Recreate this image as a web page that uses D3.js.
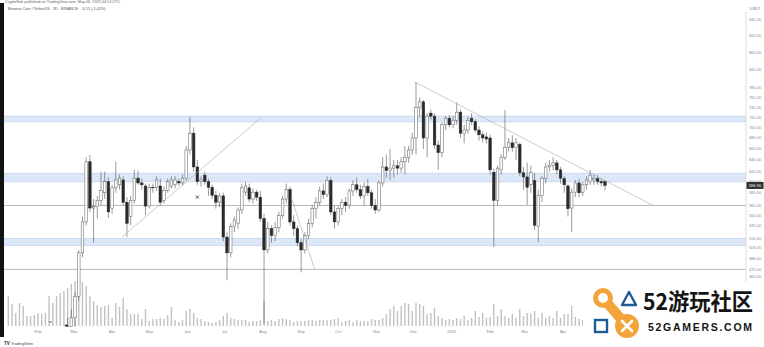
<!DOCTYPE html>
<html><head><meta charset="utf-8">
<script src="https://cdn.jsdelivr.net/npm/d3@7"></script>
<style>html,body{margin:0;padding:0;background:#fff;overflow:hidden}svg{display:block;font-family:"Liberation Sans",Arial,sans-serif}</style>
</head><body><svg id="c" width="764" height="347"></svg>
<script>
// ---------- DATA ----------
const startDate = "2024-01-08";   // first 3D candle
const stepDays = 3;
const opens  = [305,312,316,305,302,307,295,302,306,304,303,315,325,350,352,365,378,405,415,440,496,540,637,561,563,573,585,603,560,593,598,606,570,548,573,609,601,596,564,594,594,596,573,589,596,598,603,601,609,658,689,628,603,614,603,594,581,570,580,518,496,533,538,558,586,593,575,586,578,545,500,530,520,532,550,575,590,540,530,510,500,520,538,560,570,588,582,605,555,540,560,570,565,588,598,590,580,595,585,565,558,601,628,622,626,630,626,637,645,658,680,740,751,680,728,722,667,653,705,718,705,714,730,689,695,718,711,695,686,682,680,619,573,623,645,663,671,662,668,618,611,598,605,533,581,609,628,631,635,623,608,596,561,586,601,586,598,603,606,608,603,603];
const highs  = [318,322,320,312,310,310,305,310,312,310,318,330,355,360,370,385,415,425,445,500,548,645,649,575,580,620,620,610,598,637,615,612,578,580,623,622,608,600,600,600,612,608,595,608,612,612,608,615,665,720,700,640,612,620,608,598,588,585,585,525,538,548,562,600,603,600,592,590,588,552,540,535,540,555,580,600,595,550,535,515,525,545,565,578,595,600,612,610,565,565,575,578,592,605,610,598,602,608,590,575,605,645,650,660,640,640,645,665,665,690,793,760,755,728,735,728,675,710,722,724,722,750,735,705,722,728,716,702,692,690,686,625,630,650,734,680,685,680,672,628,636,630,618,590,612,635,640,645,640,628,612,600,592,606,608,603,612,623,615,614,608,606];
const lows   = [298,305,300,296,295,285,290,298,298,296,300,312,320,342,345,358,375,395,385,435,490,535,555,510,545,565,575,546,552,585,590,565,518,535,568,598,590,550,560,585,588,565,568,585,592,592,596,597,605,650,620,598,595,598,580,575,560,562,512,460,490,525,530,552,580,570,568,572,540,408,495,510,512,525,545,568,535,520,505,470,495,515,532,545,565,575,578,550,530,535,550,555,560,580,585,575,565,580,560,552,555,595,610,606,610,615,618,615,635,650,650,720,660,645,715,660,623,645,695,700,698,705,680,670,688,705,690,675,672,670,615,504,565,615,640,655,655,640,612,590,566,585,528,511,570,600,620,622,615,600,585,548,525,578,578,580,590,598,598,598,595,589];
const closes = [312,316,305,302,307,295,302,306,304,303,315,325,350,352,365,378,405,415,440,496,540,637,561,563,573,589,603,555,593,606,609,570,538,573,609,601,598,564,594,593,606,570,589,603,606,606,601,609,658,689,628,603,606,603,594,581,570,580,518,496,533,543,558,593,596,575,586,578,545,500,530,520,532,550,575,590,540,530,510,500,520,538,560,570,588,582,605,555,540,560,570,565,588,598,590,580,595,585,565,558,601,628,622,626,630,626,637,645,658,680,740,751,680,722,722,667,653,705,718,705,714,730,689,695,714,711,695,686,680,678,623,573,626,645,663,671,662,671,618,611,594,618,535,581,609,628,631,635,623,609,598,560,586,601,585,598,606,614,609,603,601,596.9];
const volumes = [2100,1540,910,1610,1400,700,700,770,910,840,910,2100,1610,2100,2310,2450,2660,2940,3150,3360,3080,2800,2100,1750,1470,1330,1400,1470,560,1610,1330,1960,1190,840,840,840,490,1190,350,490,490,560,490,770,1330,420,280,420,1050,1190,910,560,490,350,280,210,280,420,700,910,560,490,420,420,420,280,350,350,420,1750,350,420,350,490,560,490,420,280,350,350,350,420,420,350,420,420,420,420,490,560,280,350,420,280,420,350,350,350,490,420,420,560,840,1190,1400,1050,1400,1610,1540,1050,1610,1540,1400,840,910,1260,700,560,420,490,420,560,490,700,420,560,1050,630,910,560,630,1540,700,1190,700,560,840,560,1190,700,910,840,1050,560,910,560,700,560,1050,560,840,840,1400,630,490,420,350,490,350,420,280,210];
const monthTicks  = ["2024-02-01","2024-03-01","2024-04-01","2024-05-01","2024-06-01","2024-07-01","2024-08-01","2024-09-01","2024-10-01","2024-11-01","2024-12-01","2025-01-01","2025-02-01","2025-03-01","2025-04-01"];
const monthLabels = ["Feb","Mar","Apr","May","Jun","Jul","Aug","Sep","Oct","Nov","Dec","2025","Feb","Mar","Apr"];
const priceTicks = [940,900,860,820,780,760,740,720,700,680,660,640,620,604,585,565,550,535,516,503,488,474,465];
const levelBands = [[711,722],[603,617],[506,516]];
const levelLines = [565,474];
const trendLines = [
  [["2024-04-09",518],["2024-07-31",720]],
  [["2024-12-02",793],["2025-06-12",566]],
  [["2024-08-24",578],["2024-09-12",474]]
];
const crossMark = ["2024-06-09",578];
const lastPrice = 596.9;
const title1 = "CryptoHub published on TradingView.com, May 06, 2025 04:14 UTC";
const title2 = "Binance Coin / TetherUS · 3D · BINANCE · -6.15 (-1.02%)";

// ---------- CHART ----------
const svg = d3.select("#c");
const parse = d3.utcParse("%Y-%m-%d");
const t0 = parse(startDate);
const dates = opens.map((_, i) => d3.utcDay.offset(t0, stepDays * i));
const x = d3.scaleUtc().domain([parse("2024-02-01"), parse("2025-04-01")]).range([38, 563]);
const y = d3.scaleLog().domain([400, 800]).range([331.2, 78.8]);
const yv = d3.scaleLinear().domain([0, 3500]).range([326, 276]);
const plotL = 4, plotR = 746;

svg.append("rect").attr("width",764).attr("height",347).attr("fill","#fff");
svg.append("defs").append("clipPath").attr("id","pc").append("rect")
  .attr("x",plotL).attr("y",12).attr("width",plotR-plotL).attr("height",315);

const pane = svg.append("g").attr("clip-path","url(#pc)");

// level bands
levelBands.forEach(([lo,hi]) => {
  pane.append("rect").attr("x",plotL).attr("width",plotR-plotL)
    .attr("y",y(hi)).attr("height",y(lo)-y(hi)).attr("fill","#dce7f8");
  [lo,hi].forEach(v => pane.append("line").attr("x1",plotL).attr("x2",plotR)
    .attr("y1",y(v)).attr("y2",y(v)).attr("stroke","#bcd1f0").attr("stroke-width",0.7));
});
levelLines.forEach(v => pane.append("line").attr("x1",plotL).attr("x2",plotR)
  .attr("y1",y(v)).attr("y2",y(v)).attr("stroke","#9a9a9a").attr("stroke-width",0.7));

// volume
pane.append("g").selectAll("rect").data(volumes).join("rect")
  .attr("x",(d,i)=>x(dates[i])-0.7).attr("width",1.4)
  .attr("y",d=>yv(d)).attr("height",d=>yv(0)-yv(d)).attr("fill","#c2c2c2");

// candles
const cg = pane.append("g");
opens.forEach((o,i) => {
  const cx = x(dates[i]), c = closes[i], up = c >= o;
  cg.append("line").attr("x1",cx).attr("x2",cx).attr("y1",y(highs[i])).attr("y2",y(lows[i]))
    .attr("stroke","#555").attr("stroke-width",0.6);
  const top = y(Math.max(o,c)), bot = y(Math.min(o,c));
  cg.append("rect").attr("x",cx-1.3).attr("width",2.6).attr("y",top).attr("height",Math.max(0.6,bot-top))
    .attr("fill",up?"#fff":"#2a2a2a").attr("stroke",up?"#5a5a5a":"#2a2a2a").attr("stroke-width",0.5);
});

// trend lines
trendLines.forEach(([a,b]) => pane.append("line")
  .attr("x1",x(parse(a[0]))).attr("y1",y(a[1])).attr("x2",x(parse(b[0]))).attr("y2",y(b[1]))
  .attr("stroke","#a8a8a8").attr("stroke-width",0.6));
// cross marker
{ const mx = x(parse(crossMark[0])), my = y(crossMark[1]);
  pane.append("path").attr("d",`M${mx-1.5},${my-1.5}L${mx+1.5},${my+1.5}M${mx+1.5},${my-1.5}L${mx-1.5},${my+1.5}`)
    .attr("stroke","#222").attr("stroke-width",0.8); }
// small event markers
pane.append("path").attr("d",`M${x(parse("2024-02-11"))-1.5},321 l1.5,2 l1.5,-2`).attr("fill","none").attr("stroke","#333").attr("stroke-width",0.6);
pane.append("ellipse").attr("cx",x(parse("2024-02-24"))).attr("cy",325.5).attr("rx",1.8).attr("ry",1).attr("fill","#333");

// price axis
svg.append("line").attr("x1",plotR).attr("x2",plotR).attr("y1",12).attr("y2",327).attr("stroke","#d0d0d0").attr("stroke-width",0.7);
svg.append("text").attr("x",755).attr("y",10).attr("text-anchor","middle").attr("font-size",4).attr("fill","#777").text("USDT");
svg.append("g").selectAll("text").data(priceTicks).join("text")
  .attr("x",755).attr("y",d=>y(d)).attr("dy","0.35em").attr("text-anchor","middle")
  .attr("font-size",4).attr("fill","#888").text(d=>d.toFixed(2));
svg.append("rect").attr("x",746.5).attr("y",y(lastPrice)-3.5).attr("width",17).attr("height",7).attr("fill","#303030");
svg.append("text").attr("x",755).attr("y",y(lastPrice)).attr("dy","0.35em").attr("text-anchor","middle")
  .attr("font-size",4).attr("fill","#fff").text(lastPrice.toFixed(2));

// time axis
svg.append("g").selectAll("text").data(monthTicks).join("text")
  .attr("x",d=>x(parse(d))).attr("y",333).attr("text-anchor","middle")
  .attr("font-size",4).attr("fill","#888").text((d,i)=>monthLabels[i]);

// left dark strip
svg.append("rect").attr("x",0).attr("y",3).attr("width",4).attr("height",334).attr("fill","#111");

// header
svg.append("text").attr("x",5).attr("y",3).attr("font-size",3.8).attr("fill","#666").text(title1);
svg.append("text").attr("x",8).attr("y",10).attr("font-size",3.8).attr("fill","#555").text(title2);

// TradingView mark
svg.append("text").attr("x",4).attr("y",345).attr("font-size",4.5).attr("font-weight","bold").attr("fill","#222").text("TV");
svg.append("text").attr("x",11).attr("y",345).attr("font-size",4).attr("fill","#444").text("TradingView");

// watermark
const wm = svg.append("g");
wm.append("rect").attr("x",583).attr("y",282).attr("width",181).attr("height",65).attr("fill","#fff");
const orange = "#f2a43a", blue = "#1e5b97";
wm.append("line").attr("x1",603).attr("y1",298).attr("x2",627).attr("y2",326).attr("stroke",orange).attr("stroke-width",10).attr("stroke-linecap","round");
wm.append("circle").attr("cx",603).attr("cy",298).attr("r",10).attr("fill",orange);
wm.append("circle").attr("cx",603).attr("cy",298).attr("r",5).attr("fill","#fff");
wm.append("circle").attr("cx",627).attr("cy",326).attr("r",12).attr("fill",orange);
wm.append("path").attr("d","M622,321L632,331M632,321L622,331").attr("stroke","#fff").attr("stroke-width",2.6).attr("stroke-linecap","round");
wm.append("path").attr("d","M622,305L636,305L629,292Z").attr("fill","none").attr("stroke",blue).attr("stroke-width",2.4).attr("stroke-linejoin","round");
wm.append("rect").attr("x",595).attr("y",320).attr("width",12).attr("height",12).attr("fill","none").attr("stroke",blue).attr("stroke-width",2.4);
wm.append("text").attr("x",643).attr("y",310).attr("font-family","'Noto Sans CJK SC','Noto Sans',sans-serif")
  .attr("font-size",23).attr("font-weight","bold").attr("fill","#151515").attr("textLength",110).attr("lengthAdjust","spacingAndGlyphs").text("52游玩社区");
wm.append("text").attr("x",648).attr("y",331).attr("font-family","'Liberation Sans',Arial,sans-serif")
  .attr("font-size",10.5).attr("font-weight","bold").attr("fill","#151515").attr("textLength",104).attr("lengthAdjust","spacing").text("52GAMERS.COM");
</script></body></html>
